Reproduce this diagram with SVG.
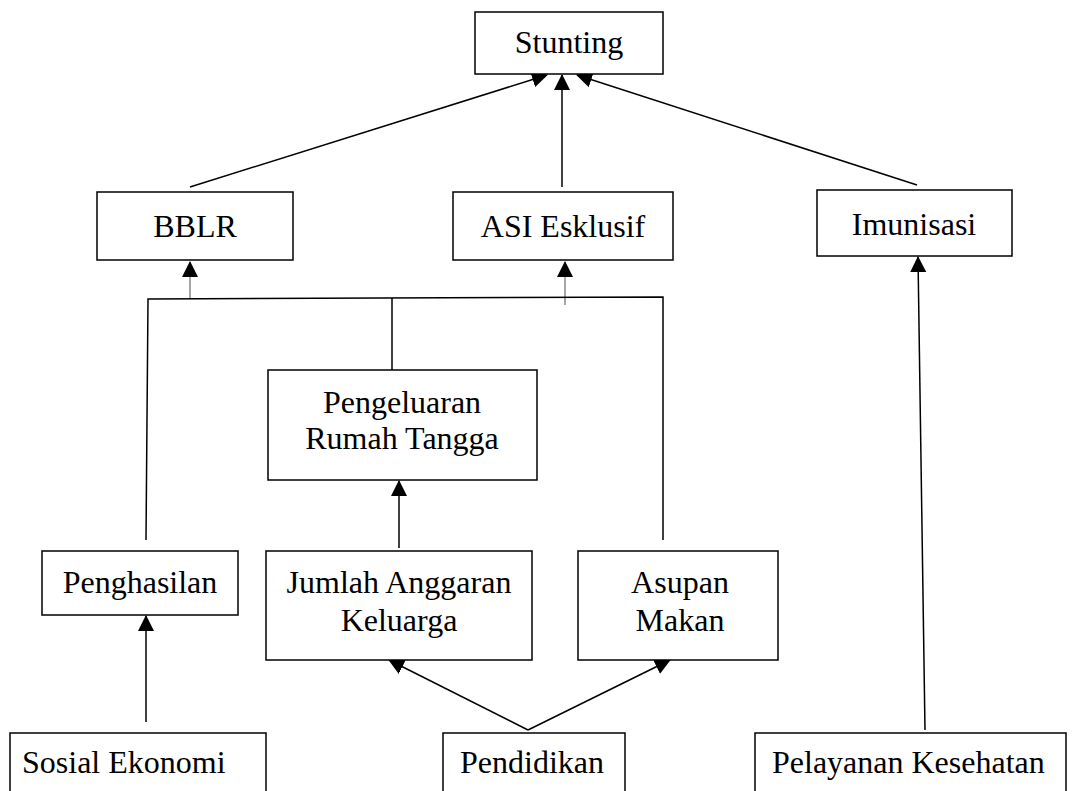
<svg xmlns="http://www.w3.org/2000/svg" width="1091" height="791" viewBox="0 0 1091 791">
<defs>
<marker id="ah" markerUnits="userSpaceOnUse" markerWidth="16" markerHeight="16" viewBox="0 0 16 16" refX="15" refY="8" orient="auto">
<path d="M0,0 L16,8 L0,16 Z" fill="#000"/>
</marker>
</defs>
<style>
rect{fill:#fff;stroke:#000;stroke-width:1.5}
text{font-family:"Liberation Serif","Times New Roman",serif;font-size:32px;fill:#000}
.c{text-anchor:middle}
.ln{stroke:#000;stroke-width:1.5;fill:none}
.g{stroke:#888;stroke-width:1.5;fill:none}
</style>
<g id="connectors">
<line class="ln" x1="190" y1="187" x2="547" y2="75" marker-end="url(#ah)"/>
<line class="ln" x1="562" y1="187" x2="562" y2="75" marker-end="url(#ah)"/>
<line class="ln" x1="917" y1="185" x2="577" y2="75" marker-end="url(#ah)"/>
<line class="g" x1="190" y1="299" x2="190" y2="262" marker-end="url(#ah)"/>
<line class="g" x1="565" y1="305" x2="565" y2="262" marker-end="url(#ah)"/>
<polyline class="ln" points="146,540 148,299 663,297 663,540"/>
<line class="ln" x1="392" y1="298" x2="392" y2="370"/>
<line class="ln" x1="399" y1="548" x2="399" y2="481" marker-end="url(#ah)"/>
<line class="ln" x1="146" y1="722" x2="146" y2="616" marker-end="url(#ah)"/>
<line class="ln" x1="528" y1="730" x2="389" y2="660" marker-end="url(#ah)"/>
<line class="ln" x1="528" y1="730" x2="670" y2="660" marker-end="url(#ah)"/>
<line class="ln" x1="925" y1="730" x2="918" y2="257" marker-end="url(#ah)"/>
</g>
<g id="stunting"><rect x="475" y="12" width="188" height="62"/><text class="c" x="569" y="53">Stunting</text></g>
<g id="bblr"><rect x="97" y="192" width="196" height="68"/><text class="c" x="195" y="237">BBLR</text></g>
<g id="asi"><rect x="453" y="192" width="220" height="68"/><text class="c" x="563" y="237">ASI Esklusif</text></g>
<g id="imunisasi"><rect x="817" y="190" width="195" height="66"/><text class="c" x="914" y="235">Imunisasi</text></g>
<g id="pengeluaran"><rect x="268" y="370" width="269" height="110"/><text class="c" x="402" y="413">Pengeluaran</text><text class="c" x="402" y="449">Rumah Tangga</text></g>
<g id="penghasilan"><rect x="42" y="551" width="196" height="64"/><text class="c" x="140" y="593">Penghasilan</text></g>
<g id="jumlah"><rect x="266" y="551" width="266" height="109"/><text class="c" x="399" y="593">Jumlah Anggaran</text><text class="c" x="399" y="631">Keluarga</text></g>
<g id="asupan"><rect x="578" y="551" width="200" height="109"/><text class="c" x="680" y="593">Asupan</text><text class="c" x="680" y="631">Makan</text></g>
<g id="sosial"><rect x="10" y="733" width="256" height="70"/><text x="22" y="773">Sosial Ekonomi</text></g>
<g id="pendidikan"><rect x="443" y="733" width="182" height="70"/><text x="460" y="773">Pendidikan</text></g>
<g id="pelayanan"><rect x="755" y="733" width="311" height="70"/><text x="772" y="773">Pelayanan Kesehatan</text></g>
</svg>
